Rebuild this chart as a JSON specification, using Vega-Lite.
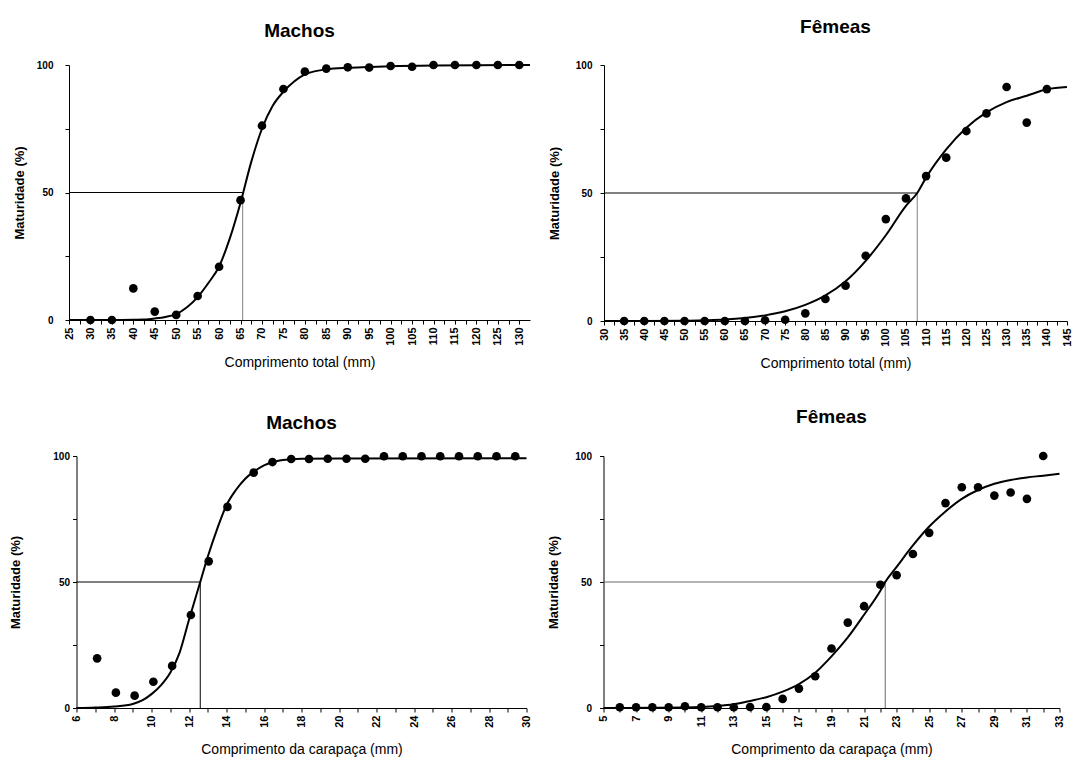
{
  "$schema": "https://vega.github.io/schema/vega-lite/v6.json",
  "background": "white",
  "padding": {"left": 9, "top": 18, "right": 0, "bottom": 2},
  "config": {
    "view": {"stroke": null},
    "font": "Liberation Sans",
    "axis": {"grid": false, "domainColor": "#000", "tickColor": "#000", "labelColor": "#000", "titleColor": "#000", "labelFont": "Liberation Sans", "titleFont": "Liberation Sans", "labelFontWeight": "bold", "tickSize": 4, "domainWidth": 1, "tickWidth": 1, "labelBound": false},
    "axisX": {"labelAngle": -90, "labelFontSize": 11, "titleFontSize": 14, "titleFontWeight": "normal", "titlePadding": 10, "labelPadding": 3},
    "axisY": {"labelFontSize": 10, "titleFontSize": 13, "titleFontWeight": "bold", "labelPadding": 8, "titlePadding": 14},
    "title": {"fontSize": 19, "fontWeight": "bold", "anchor": "middle", "color": "#000", "font": "Liberation Sans"}
  },
  "datasets": {
    "p1_pts": [{"x":30,"y":0},{"x":35,"y":0},{"x":40,"y":12.4},{"x":45,"y":3.3},{"x":50,"y":2},{"x":55,"y":9.4},{"x":60,"y":20.9},{"x":65,"y":47},{"x":70,"y":76.2},{"x":75,"y":90.6},{"x":80,"y":97.4},{"x":85,"y":98.6},{"x":90,"y":99.1},{"x":95,"y":99},{"x":100,"y":99.6},{"x":105,"y":99.3},{"x":110,"y":100},{"x":115,"y":100},{"x":120,"y":100},{"x":125,"y":100},{"x":130,"y":100}],
    "p1_curve": [{"x":25,"y":0},{"x":30,"y":0},{"x":35,"y":0},{"x":40,"y":0.1},{"x":42.5,"y":0.2},{"x":45,"y":0.6},{"x":47.5,"y":1.2},{"x":50,"y":2.3},{"x":52.5,"y":5},{"x":55,"y":9},{"x":57.5,"y":14.5},{"x":60,"y":21},{"x":62.5,"y":32},{"x":65,"y":46},{"x":67.5,"y":62},{"x":70,"y":75},{"x":72.5,"y":84},{"x":75,"y":89.5},{"x":77.5,"y":93.5},{"x":80,"y":96.3},{"x":82.5,"y":97.6},{"x":85,"y":98.3},{"x":90,"y":98.9},{"x":95,"y":99.2},{"x":100,"y":99.5},{"x":110,"y":99.8},{"x":120,"y":99.9},{"x":132.5,"y":100}],
    "p1_ref": [{"part":"h","x":25,"x2":65.5,"y":50,"y2":50},{"part":"v","x":65.5,"x2":65.5,"y":0,"y2":50}],
    "p2_pts": [{"x":35,"y":0},{"x":40,"y":0},{"x":45,"y":0},{"x":50,"y":0},{"x":55,"y":0},{"x":60,"y":0},{"x":65,"y":0},{"x":70,"y":0.3},{"x":75,"y":0.5},{"x":80,"y":3},{"x":85,"y":8.6},{"x":90,"y":13.8},{"x":95,"y":25.5},{"x":100,"y":39.8},{"x":105,"y":47.9},{"x":110,"y":56.6},{"x":115,"y":63.8},{"x":120,"y":74.2},{"x":125,"y":81.1},{"x":130,"y":91.4},{"x":135,"y":77.5},{"x":140,"y":90.6}],
    "p2_curve": [{"x":30,"y":0},{"x":40,"y":0},{"x":50,"y":0.1},{"x":55,"y":0.3},{"x":60,"y":0.6},{"x":65,"y":1.2},{"x":70,"y":2.2},{"x":75,"y":3.8},{"x":80,"y":6.3},{"x":85,"y":10},{"x":90,"y":15.5},{"x":95,"y":23.5},{"x":100,"y":33.5},{"x":105,"y":45},{"x":107.8,"y":50},{"x":110,"y":56},{"x":115,"y":67},{"x":120,"y":75.5},{"x":125,"y":81.5},{"x":130,"y":85.5},{"x":135,"y":88},{"x":140,"y":90.5},{"x":145,"y":91.4}],
    "p2_ref": [{"part":"h","x":30,"x2":107.8,"y":50,"y2":50},{"part":"v","x":107.8,"x2":107.8,"y":0,"y2":50}],
    "p3_pts": [{"x":7.1,"y":19.7},{"x":8.1,"y":6.1},{"x":9.1,"y":4.9},{"x":10.1,"y":10.4},{"x":11.1,"y":16.7},{"x":12.1,"y":36.9},{"x":13.05,"y":58.2},{"x":14.05,"y":79.8},{"x":15.45,"y":93.4},{"x":16.45,"y":97.6},{"x":17.45,"y":98.8},{"x":18.4,"y":98.8},{"x":19.4,"y":98.9},{"x":20.4,"y":98.9},{"x":21.4,"y":98.9},{"x":22.4,"y":99.9},{"x":23.4,"y":99.9},{"x":24.4,"y":99.9},{"x":25.4,"y":99.9},{"x":26.4,"y":99.9},{"x":27.4,"y":99.9},{"x":28.4,"y":99.9},{"x":29.4,"y":99.9}],
    "p3_curve": [{"x":6,"y":0},{"x":7,"y":0.2},{"x":8,"y":0.6},{"x":9,"y":1.6},{"x":9.5,"y":3},{"x":10,"y":5.5},{"x":10.5,"y":9},{"x":11,"y":14},{"x":11.5,"y":22},{"x":12,"y":35},{"x":12.6,"y":50},{"x":13,"y":60},{"x":13.5,"y":71},{"x":14,"y":80.5},{"x":14.5,"y":86.5},{"x":15,"y":91},{"x":15.5,"y":94},{"x":16,"y":96.3},{"x":16.5,"y":97.6},{"x":17,"y":98.4},{"x":18,"y":98.9},{"x":20,"y":99},{"x":30,"y":99.1}],
    "p3_ref": [{"part":"h","x":6,"x2":12.6,"y":50,"y2":50},{"part":"v","x":12.6,"x2":12.6,"y":0,"y2":50}],
    "p4_pts": [{"x":6,"y":0.3},{"x":7,"y":0.3},{"x":8,"y":0.3},{"x":9,"y":0.3},{"x":10,"y":0.7},{"x":11,"y":0.3},{"x":12,"y":0.3},{"x":13,"y":0.3},{"x":14,"y":0.4},{"x":15,"y":0.4},{"x":16,"y":3.6},{"x":17,"y":7.7},{"x":18,"y":12.6},{"x":19,"y":23.6},{"x":20,"y":33.9},{"x":21,"y":40.4},{"x":22,"y":48.9},{"x":23,"y":52.7},{"x":24,"y":61.1},{"x":25,"y":69.5},{"x":26,"y":81.3},{"x":27,"y":87.6},{"x":28,"y":87.6},{"x":29,"y":84.3},{"x":30,"y":85.5},{"x":31,"y":83},{"x":32,"y":100}],
    "p4_curve": [{"x":5,"y":0},{"x":8,"y":0.1},{"x":10,"y":0.2},{"x":11,"y":0.4},{"x":12,"y":0.8},{"x":13,"y":1.5},{"x":14,"y":2.8},{"x":15,"y":4.3},{"x":16,"y":6.5},{"x":17,"y":9.5},{"x":18,"y":14},{"x":19,"y":20.5},{"x":20,"y":28},{"x":21,"y":37},{"x":22,"y":46.5},{"x":22.3,"y":50},{"x":23,"y":56},{"x":24,"y":64.5},{"x":25,"y":72},{"x":26,"y":78},{"x":27,"y":83},{"x":28,"y":86.5},{"x":29,"y":89},{"x":30,"y":90.5},{"x":31,"y":91.5},{"x":32,"y":92.2},{"x":33,"y":93}],
    "p4_ref": [{"part":"h","x":5,"x2":22.3,"y":50,"y2":50},{"part":"v","x":22.3,"x2":22.3,"y":0,"y2":50}]
  },
  "spacing": 37,
  "center": true,
  "vconcat": [
    {
      "spacing": 14,
      "hconcat": [
        {
          "width": 461, "height": 255,
          "title": {"text": "Machos", "offset": 19},
          "encoding": {
            "x": {"field": "x", "type": "quantitative", "scale": {"domain": [25, 132.5], "nice": false, "zero": false},
                  "axis": {"title": "Comprimento total (mm)", "labelOverlap": false, "values": [25,27.5,30,32.5,35,37.5,40,42.5,45,47.5,50,52.5,55,57.5,60,62.5,65,67.5,70,72.5,75,77.5,80,82.5,85,87.5,90,92.5,95,97.5,100,102.5,105,107.5,110,112.5,115,117.5,120,122.5,125,127.5,130], "labelExpr": "datum.value % 5 === 0 ? datum.label : ''"}},
            "y": {"field": "y", "type": "quantitative", "scale": {"domain": [0, 100], "nice": false},
                  "axis": {"title": "Maturidade (%)", "labelPadding": 12, "titlePadding": 10, "values": [0,25,50,75,100], "labelExpr": "datum.value % 50 === 0 ? datum.label : ''"}}
          },
          "layer": [
            {"data": {"name": "p1_ref"}, "mark": {"type": "rule", "strokeWidth": 1},
             "encoding": {"x2": {"field": "x2"}, "y2": {"field": "y2"},
               "color": {"field": "part", "type": "nominal", "scale": {"domain": ["h", "v"], "range": ["#000000", "#808080"]}, "legend": null}}},
            {"data": {"name": "p1_curve"}, "mark": {"type": "line", "color": "#000", "strokeWidth": 2, "interpolate": "monotone"}, "encoding": {}},
            {"data": {"name": "p1_pts"}, "mark": {"type": "point", "filled": true, "color": "#000", "size": 75, "opacity": 1}, "encoding": {}}
          ]
        },
        {
          "width": 463, "height": 256,
          "title": {"text": "Fêmeas", "offset": 23},
          "encoding": {
            "x": {"field": "x", "type": "quantitative", "scale": {"domain": [30, 145], "nice": false, "zero": false},
                  "axis": {"title": "Comprimento total (mm)", "labelOverlap": false, "values": [30,32.5,35,37.5,40,42.5,45,47.5,50,52.5,55,57.5,60,62.5,65,67.5,70,72.5,75,77.5,80,82.5,85,87.5,90,92.5,95,97.5,100,102.5,105,107.5,110,112.5,115,117.5,120,122.5,125,127.5,130,132.5,135,137.5,140,142.5,145], "labelExpr": "datum.value % 5 === 0 ? datum.label : ''"}},
            "y": {"field": "y", "type": "quantitative", "scale": {"domain": [0, 100], "nice": false},
                  "axis": {"title": "Maturidade (%)", "values": [0,25,50,75,100], "labelExpr": "datum.value % 50 === 0 ? datum.label : ''"}}
          },
          "layer": [
            {"data": {"name": "p2_ref"}, "mark": {"type": "rule", "strokeWidth": 1},
             "encoding": {"x2": {"field": "x2"}, "y2": {"field": "y2"},
               "color": {"field": "part", "type": "nominal", "scale": {"domain": ["h", "v"], "range": ["#6a6a6a", "#808080"]}, "legend": null}}},
            {"data": {"name": "p2_curve"}, "mark": {"type": "line", "color": "#000", "strokeWidth": 2, "interpolate": "monotone"}, "encoding": {}},
            {"data": {"name": "p2_pts"}, "mark": {"type": "point", "filled": true, "color": "#000", "size": 75, "opacity": 1}, "encoding": {}}
          ]
        }
      ]
    },
    {
      "spacing": 16,
      "hconcat": [
        {
          "width": 450, "height": 252,
          "title": {"text": "Machos", "offset": 18},
          "encoding": {
            "x": {"field": "x", "type": "quantitative", "scale": {"domain": [6, 30], "nice": false, "zero": false},
                  "axis": {"title": "Comprimento da carapaça (mm)", "titlePadding": 15, "labelOverlap": false, "values": [6,7,8,9,10,11,12,13,14,15,16,17,18,19,20,21,22,23,24,25,26,27,28,29,30], "labelExpr": "datum.value % 2 === 0 ? datum.label : ''"}},
            "y": {"field": "y", "type": "quantitative", "scale": {"domain": [0, 100], "nice": false},
                  "axis": {"title": "Maturidade (%)", "labelPadding": 3, "titlePadding": 30, "values": [0,25,50,75,100], "labelExpr": "datum.value % 50 === 0 ? datum.label : ''"}}
          },
          "layer": [
            {"data": {"name": "p3_ref"}, "mark": {"type": "rule", "strokeWidth": 1, "color": "#000"},
             "encoding": {"x2": {"field": "x2"}, "y2": {"field": "y2"}}},
            {"data": {"name": "p3_curve"}, "mark": {"type": "line", "color": "#000", "strokeWidth": 2, "interpolate": "monotone"}, "encoding": {}},
            {"data": {"name": "p3_pts"}, "mark": {"type": "point", "filled": true, "color": "#000", "size": 75, "opacity": 1}, "encoding": {}}
          ]
        },
        {
          "width": 456, "height": 252,
          "title": {"text": "Fêmeas", "offset": 24},
          "encoding": {
            "x": {"field": "x", "type": "quantitative", "scale": {"domain": [5, 33], "nice": false, "zero": false},
                  "axis": {"title": "Comprimento da carapaça (mm)", "titlePadding": 15, "labelOverlap": false, "values": [5,6,7,8,9,10,11,12,13,14,15,16,17,18,19,20,21,22,23,24,25,26,27,28,29,30,31,32,33], "labelExpr": "datum.value % 2 === 1 ? datum.label : ''"}},
            "y": {"field": "y", "type": "quantitative", "scale": {"domain": [0, 100], "nice": false},
                  "axis": {"title": "Maturidade (%)", "values": [0,25,50,75,100], "labelExpr": "datum.value % 50 === 0 ? datum.label : ''"}}
          },
          "layer": [
            {"data": {"name": "p4_ref"}, "mark": {"type": "rule", "strokeWidth": 1, "color": "#6a6a6a"},
             "encoding": {"x2": {"field": "x2"}, "y2": {"field": "y2"}}},
            {"data": {"name": "p4_curve"}, "mark": {"type": "line", "color": "#000", "strokeWidth": 2, "interpolate": "monotone"}, "encoding": {}},
            {"data": {"name": "p4_pts"}, "mark": {"type": "point", "filled": true, "color": "#000", "size": 75, "opacity": 1}, "encoding": {}}
          ]
        }
      ]
    }
  ],
  "resolve": {"scale": {"color": "independent"}}
}
